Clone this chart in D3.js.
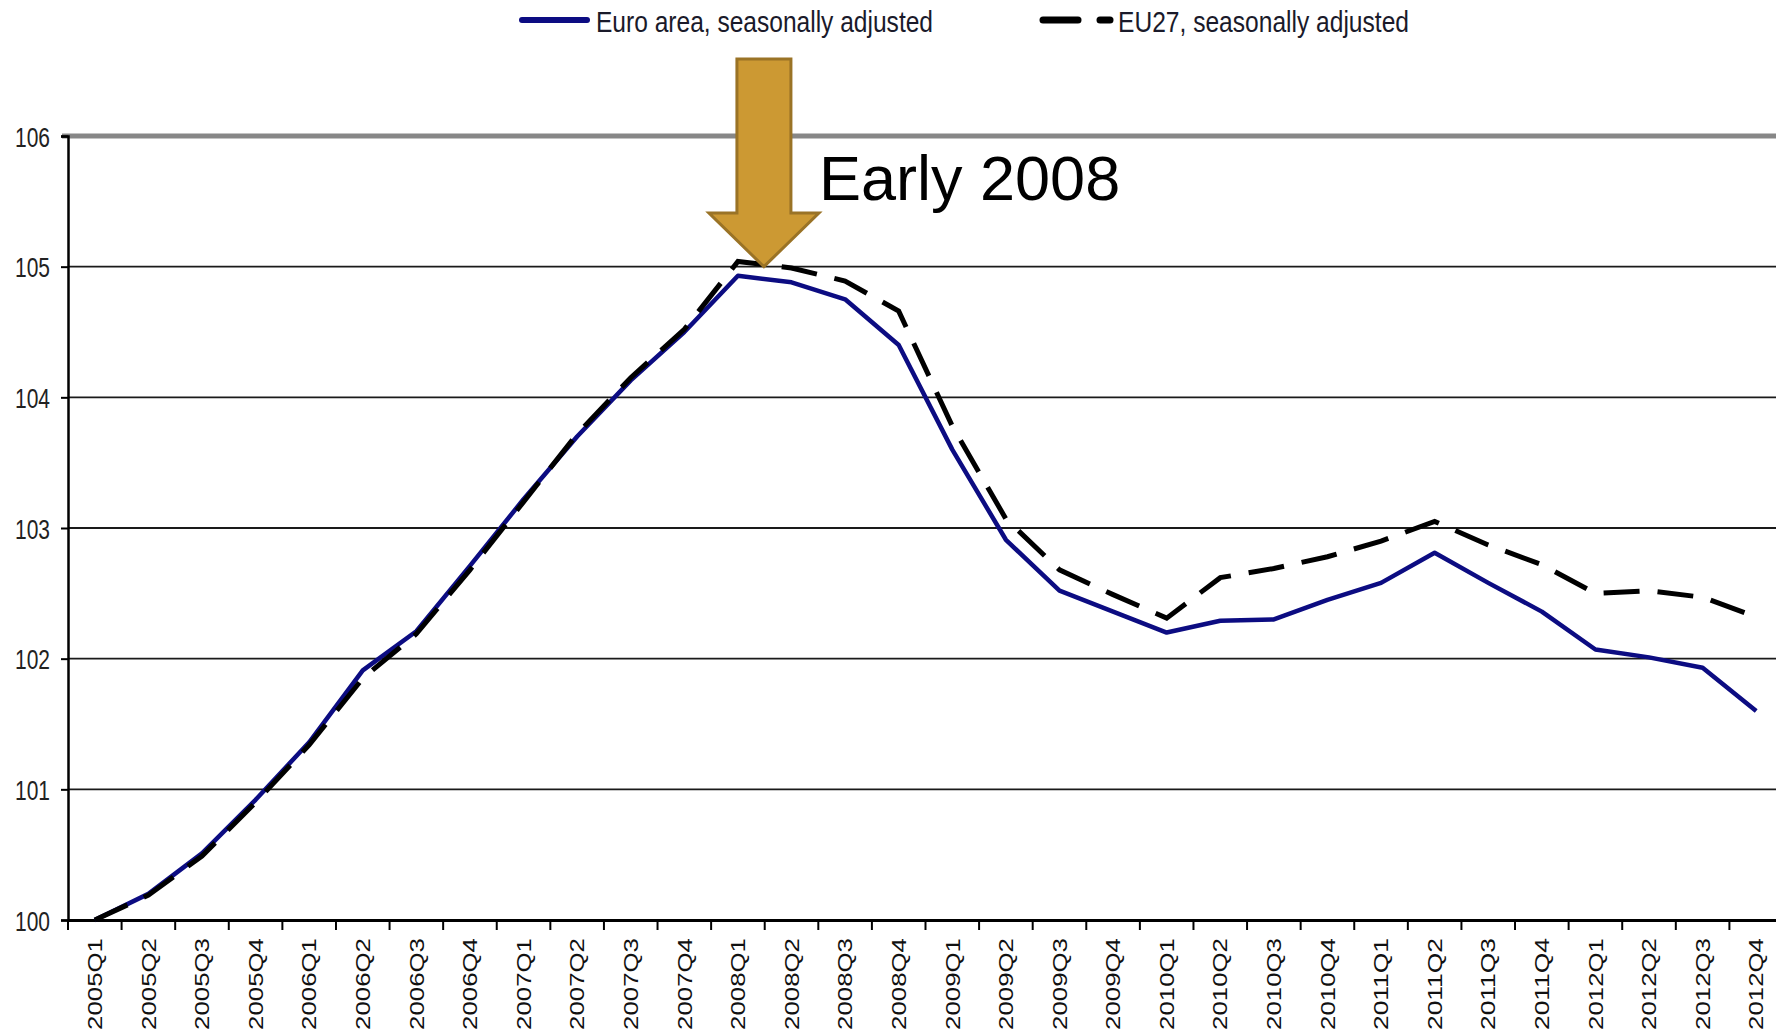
<!DOCTYPE html>
<html>
<head>
<meta charset="utf-8">
<script src="https://cdn.jsdelivr.net/npm/d3@7/dist/d3.min.js"></script>
<style>
  html, body { margin: 0; padding: 0; background: #ffffff; }
  svg { display: block; }
  text { font-family: "Liberation Sans", Arial, sans-serif; }
</style>
</head>
<body>
<svg id="chart" width="1776" height="1036"></svg>
<script>
const categories = [
  "2005Q1","2005Q2","2005Q3","2005Q4",
  "2006Q1","2006Q2","2006Q3","2006Q4",
  "2007Q1","2007Q2","2007Q3","2007Q4",
  "2008Q1","2008Q2","2008Q3","2008Q4",
  "2009Q1","2009Q2","2009Q3","2009Q4",
  "2010Q1","2010Q2","2010Q3","2010Q4",
  "2011Q1","2011Q2","2011Q3","2011Q4",
  "2012Q1","2012Q2","2012Q3","2012Q4"
];
const euroArea = [
  100.00, 100.20, 100.51, 100.92,
  101.36, 101.91, 102.21, 102.71,
  103.22, 103.70, 104.13, 104.50,
  104.93, 104.88, 104.75, 104.40,
  103.60, 102.91, 102.52, 102.36,
  102.20, 102.29, 102.30, 102.45,
  102.58, 102.81, 102.58, 102.36,
  102.07, 102.01, 101.93, 101.60
];
const eu27 = [
  100.00, 100.19, 100.49, 100.90,
  101.34, 101.85, 102.19, 102.68,
  103.20, 103.72, 104.15, 104.52,
  105.04, 104.99, 104.89, 104.66,
  103.78, 103.07, 102.68, 102.49,
  102.31, 102.62, 102.69, 102.78,
  102.90, 103.05, 102.87, 102.72,
  102.50, 102.52, 102.47, 102.32
];
const yTicks = [100, 101, 102, 103, 104, 105, 106];
const seriesNames = ["Euro area, seasonally adjusted", "EU27, seasonally adjusted"];
const annotationText = "Early 2008";
const annotationCategory = "2008Q1";
const annotationValue = 105;

const svg = d3.select("#chart");
const x = d3.scaleBand().domain(categories).range([68, 1783]).padding(0);
const y = d3.scaleLinear().domain([100, 106]).range([920, 136]);
const cx = c => x(c) + x.bandwidth() / 2;

// gridlines
svg.append("g").selectAll("line")
  .data(yTicks.filter(t => t > 100 && t < 106))
  .join("line")
  .attr("x1", 68).attr("x2", 1776)
  .attr("y1", d => y(d)).attr("y2", d => y(d))
  .attr("stroke", "#1a1a1a").attr("stroke-width", 1.8);

// top gray line at 106
svg.append("line")
  .attr("x1", 62).attr("x2", 1776)
  .attr("y1", y(106)).attr("y2", y(106))
  .attr("stroke", "#878787").attr("stroke-width", 5);

// y axis
const yAxis = d3.axisLeft(y).tickValues(yTicks).tickSize(7).tickFormat(d3.format("d"));
const gy = svg.append("g").attr("transform", "translate(68,0)").call(yAxis);
gy.select(".domain").attr("stroke", "#000").attr("stroke-width", 2.5);
gy.selectAll(".tick line").attr("stroke", "#000").attr("stroke-width", 2);
gy.selectAll(".tick text")
  .attr("x", -18).attr("dy", "0.36em")
  .attr("fill", "#222")
  .style("font-size", "28px")
  .style("font-family", "'Liberation Sans', Arial, sans-serif")
  .attr("textLength", 35).attr("lengthAdjust", "spacingAndGlyphs");

// x axis
const xAxis = d3.axisBottom(x).tickSize(0).tickFormat("");
const gx = svg.append("g").attr("transform", "translate(0,920)").call(xAxis);
gx.select(".domain").attr("stroke", "#000").attr("stroke-width", 3);
// boundary ticks
svg.append("g").selectAll("line")
  .data(categories.slice(1).concat(["end"]))
  .join("line")
  .attr("x1", (d, i) => x(categories[0]) + x.step() * (i + 1))
  .attr("x2", (d, i) => x(categories[0]) + x.step() * (i + 1))
  .attr("y1", 920).attr("y2", 930)
  .attr("stroke", "#000").attr("stroke-width", 2);
svg.append("line").attr("x1", 68).attr("x2", 68).attr("y1", 920).attr("y2", 930)
  .attr("stroke", "#000").attr("stroke-width", 2);

// x labels rotated
svg.append("g").selectAll("text")
  .data(categories)
  .join("text")
  .attr("transform", d => `translate(${cx(d)},938) rotate(-90)`)
  .attr("text-anchor", "end")
  .attr("dy", "0.36em")
  .attr("fill", "#111")
  .style("font-size", "20px")
  .attr("textLength", 92).attr("lengthAdjust", "spacingAndGlyphs")
  .text(d => d);

// lines
const line = d3.line().x((d, i) => cx(categories[i])).y(d => y(d));
svg.append("path")
  .datum(euroArea)
  .attr("d", line)
  .attr("fill", "none")
  .attr("stroke", "#0c0c82")
  .attr("stroke-width", 4.5)
  .attr("stroke-linejoin", "round");
svg.append("path")
  .datum(eu27)
  .attr("d", line)
  .attr("fill", "none")
  .attr("stroke", "#000")
  .attr("stroke-width", 5)
  .attr("stroke-dasharray", "36,18");

// legend
const lg = svg.append("g");
lg.append("line").attr("x1", 522).attr("x2", 587).attr("y1", 20).attr("y2", 20)
  .attr("stroke", "#0c0c82").attr("stroke-width", 6).attr("stroke-linecap", "round");
lg.append("text").attr("x", 596).attr("y", 32)
  .attr("fill", "#1a1a2a").style("font-size", "30px")
  .attr("textLength", 337).attr("lengthAdjust", "spacingAndGlyphs")
  .text(seriesNames[0]);
lg.append("line").attr("x1", 1043).attr("x2", 1078).attr("y1", 20).attr("y2", 20)
  .attr("stroke", "#000").attr("stroke-width", 7).attr("stroke-linecap", "round");
lg.append("line").attr("x1", 1100).attr("x2", 1110).attr("y1", 20).attr("y2", 20)
  .attr("stroke", "#000").attr("stroke-width", 7).attr("stroke-linecap", "round");
lg.append("text").attr("x", 1118).attr("y", 32)
  .attr("fill", "#1a1a2a").style("font-size", "30px")
  .attr("textLength", 291).attr("lengthAdjust", "spacingAndGlyphs")
  .text(seriesNames[1]);

// arrow annotation
const ax = cx(annotationCategory) + 26;
const tipY = y(annotationValue);
const arrowPts = [
  [ax - 27, 59], [ax + 27, 59], [ax + 27, 213], [ax + 55, 213],
  [ax, tipY], [ax - 55, 213], [ax - 27, 213]
];
svg.append("polygon")
  .attr("points", arrowPts.map(p => p.join(",")).join(" "))
  .attr("fill", "#CC9933")
  .attr("stroke", "#9A7326")
  .attr("stroke-width", 3)
  .attr("stroke-linejoin", "miter");
svg.append("text")
  .attr("x", 819).attr("y", 200)
  .attr("fill", "#000")
  .style("font-size", "63px")
  .text(annotationText);
</script>
</body>
</html>
